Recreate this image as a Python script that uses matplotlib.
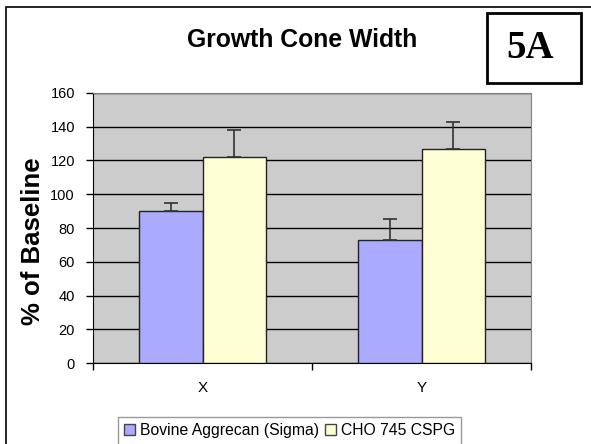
import numpy as np
import matplotlib
matplotlib.use('Agg')
import matplotlib.pyplot as plt
from matplotlib.patches import Rectangle

plt.rcParams['font.family'] = ['Liberation Sans', 'DejaVu Sans']

# ── data ───────────────────────────────────────────────────────────────────────
CATEGORIES = ["X", "Y"]
SERIES     = ["Bovine Aggrecan (Sigma)", "CHO 745 CSPG"]
AGGRECAN   = [90, 72.7]
AGGRECAN_E = [5, 12.5]
CHO        = [122, 127]
CHO_E      = [16, 16]

# ── plot ───────────────────────────────────────────────────────────────────────
W, H = 591, 444
fig = plt.figure(figsize=(W / 100, H / 100), dpi=100)
ax = fig.add_axes([93 / W, 1 - 363 / H, (531 - 93) / W, (363 - 93) / H])
ax.set_facecolor("#cccccc")

x, width = np.arange(len(CATEGORIES)), 0.29
err_kw = dict(ecolor="#333333", elinewidth=1.2, capsize=5, capthick=1.2)
ax.bar(x - width / 2, AGGRECAN, width, color="#aaaaff", edgecolor="#222222",
       linewidth=1, zorder=3, label=SERIES[0],
       yerr=[np.zeros(len(AGGRECAN_E)), AGGRECAN_E], error_kw=err_kw)
ax.bar(x + width / 2, CHO, width, color="#ffffd6", edgecolor="#222222",
       linewidth=1, zorder=3, label=SERIES[1],
       yerr=[np.zeros(len(CHO_E)), CHO_E], error_kw=err_kw)

ax.set_xlim(-0.5, len(CATEGORIES) - 0.5)
ax.set_ylim(0, 160)
ax.set_yticks(np.arange(0, 161, 20))
ax.yaxis.grid(True, color="black", linewidth=1, zorder=0)
ax.set_axisbelow(True)

ax.set_xticks(np.arange(-0.5, len(CATEGORIES), 1))
ax.set_xticklabels([])
ax.set_xticks(x, minor=True)
ax.set_xticklabels(CATEGORIES, minor=True, fontsize=11)
ax.tick_params(axis="x", which="major", direction="out", length=5, width=1)
ax.tick_params(axis="x", which="minor", length=0, pad=13)
ax.tick_params(axis="y", direction="out", length=5, width=1, labelsize=10.5, pad=8)

for side in ("top", "right"):
    ax.spines[side].set_color("#808080")
for side in ("left", "bottom"):
    ax.spines[side].set_color("black")

fig.text(302 / W, 1 - 47 / H, "Growth Cone Width", ha="center", va="baseline",
         fontsize=17.8, fontweight="bold")
fig.text(33 / W, 1 - 241 / H, "% of Baseline", ha="center", va="center",
         rotation=90, rotation_mode="anchor", fontsize=18.5, fontweight="bold")

# outer chart border and the panel label box
fig.patches.append(Rectangle((6 / W, -0.1), 1.2, 1.1 - 7 / H, transform=fig.transFigure,
                             fill=False, edgecolor="black", linewidth=1.2))
fig.patches.append(Rectangle((487 / W, 1 - 83 / H), 94 / W, 70 / H, transform=fig.transFigure,
                             fill=False, edgecolor="black", linewidth=2))
fig.text(530 / W, 1 - 58 / H, "5A", ha="center", va="baseline", fontsize=28,
         fontweight="bold", family="Liberation Serif")

leg = fig.legend(loc="upper left", bbox_to_anchor=(118 / W, 1 - 417 / H), ncol=2,
                 fontsize=11.3, frameon=True, fancybox=False, edgecolor="#808080",
                 handlelength=0.7, handleheight=0.7, handletextpad=0.3,
                 columnspacing=0.4, borderpad=0.4, borderaxespad=0)
leg.get_frame().set_linewidth(1)
for h in leg.legend_handles:
    h.set_edgecolor("#444444")

plt.savefig("out.png", dpi=100)
